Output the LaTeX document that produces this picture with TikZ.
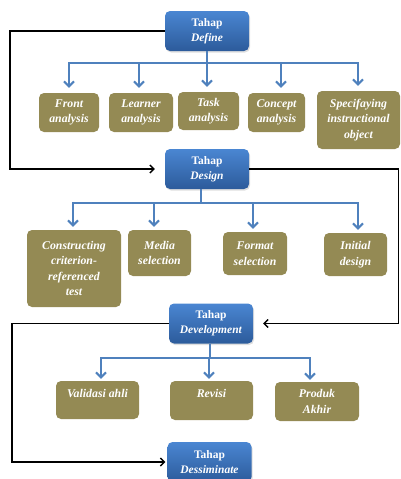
\documentclass[tikz,border=0pt]{standalone}
\usepackage{fontspec}
\setmainfont{Liberation Serif}
\usetikzlibrary{arrows.meta,shadows}
\definecolor{phaseTop}{HTML}{4A86D2}
\definecolor{phaseBot}{HTML}{2C5B9B}
\definecolor{olive}{HTML}{948A54}
\definecolor{branchBlue}{HTML}{4F81BD}
\begin{document}
\begin{tikzpicture}[x=1pt,y=-1pt,
    phase/.style={draw=none,rounded corners=5pt,top color=phaseTop,bottom color=phaseBot,
        text=white,align=center,inner sep=0pt,minimum width=84pt,minimum height=40pt,
        font=\fontsize{11.5}{15}\selectfont\bfseries,
        drop shadow={shadow xshift=1pt,shadow yshift=-1.5pt,opacity=0.25}},
    task/.style={fill=olive,rounded corners=5pt,text=white,align=center,inner sep=0pt,
        font=\fontsize{11.8}{15.5}\selectfont\bfseries\itshape},
    branch/.style={draw=branchBlue,line width=2pt,-{Straight Barb[length=5pt,width=10pt]},shorten >=3pt},
    flow/.style={draw=black,line width=1.4pt,-{Straight Barb[length=4pt,width=8pt]}}]
    \useasboundingbox (0,0) rectangle (400,479);

    % Phases
    \node[phase] (define) at (207,31) {Tahap\\\textit{Define}};
    \node[phase] (design) at (207,169) {Tahap\\\textit{Design}};
    \node[phase] (dev) at (211,323.5) {Tahap\\\textit{Development}};
    \node[phase] (diss) at (209.5,462) {Tahap\\\textit{Dessiminate}};

    % Define tasks
    \node[task,minimum width=60pt,minimum height=39pt] (front) at (69,112.5) {Front\\analysis};
    \node[task,minimum width=64pt,minimum height=39pt] (learner) at (141,112.5) {Learner\\analysis};
    \node[task,minimum width=61pt,minimum height=38pt] (taskan) at (208.5,111) {Task\\analysis};
    \node[task,minimum width=57pt,minimum height=39pt] (concept) at (276.5,112.5) {Concept\\analysis};
    \node[task,minimum width=83pt,minimum height=58pt] (spec) at (358.5,120) {Specifaying\\instructional\\object};

    % Design tasks
    \node[task,minimum width=94pt,minimum height=77pt] (constr) at (74,268.5) {Constructing\\criterion-\\referenced\\test};
    \node[task,minimum width=63pt,minimum height=46pt] (media) at (159.5,253) {Media\\selection};
    \node[task,minimum width=64pt,minimum height=43pt] (format) at (255,253.5) {Format\\selection};
    \node[task,minimum width=63pt,minimum height=43pt] (initial) at (355.5,254.5) {Initial\\design};

    % Development tasks
    \node[task,minimum width=83pt,minimum height=38pt] (valid) at (97.5,400) {Validasi ahli\\[-2pt]\phantom{x}};
    \node[task,minimum width=83pt,minimum height=39pt] (revisi) at (211.5,400.5) {Revisi\\[-2pt]\phantom{x}};
    \node[task,minimum width=84pt,minimum height=39pt] (produk) at (317,401.5) {Produk\\Akhir};

    % Branches
    \foreach \c/\x in {front/69,learner/139,taskan/207,concept/281,spec/358}
        \draw[branch,shorten >=5pt] (define.south) -- ++(0,12) -| (\c.north -| \x,0);
    \foreach \c/\x in {constr/73,media/154,format/253,initial/358}
        \draw[branch] (design.south -| 201,0) -- ++(0,14) -| (\c.north -| \x,0);
    \foreach \c/\x in {valid/101,revisi/209,produk/310}
        \draw[branch,shorten >=2pt] (dev.south -| 210,0) -- ++(0,14) -| (\c.north -| \x,0);

    % Flow between phases
    \draw[flow,shorten >=10pt] (define.west) -- ++(-155,0) |- (design.west);
    \draw[flow,shorten >=10pt] (design.east) -- ++(149,0) |- (dev.east);
    \draw[flow,shorten >=2pt] (dev.west) -- ++(-157,0) |- (diss.west);
\end{tikzpicture}
\end{document}
